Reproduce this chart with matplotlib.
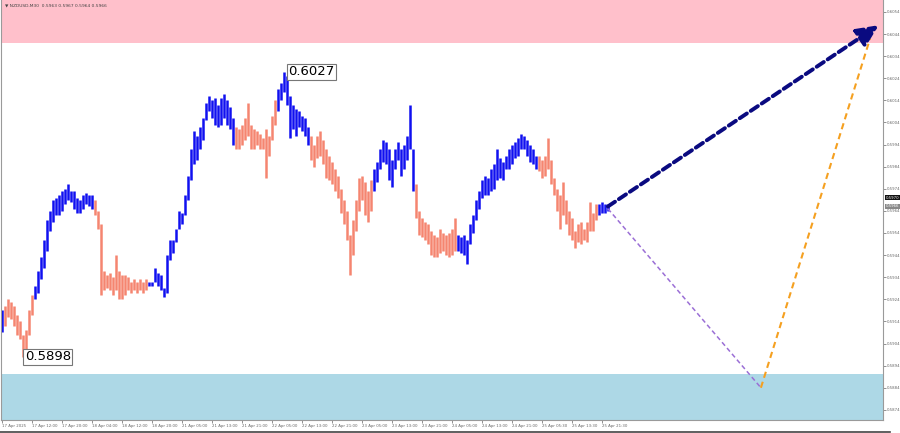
import matplotlib
matplotlib.use('Agg')
import matplotlib.pyplot as plt
from matplotlib.transforms import blended_transform_factory

# bar highs / lows (price), one entry per bar
highs = [
	0.5919, 0.5921, 0.5924, 0.5923, 0.5921, 0.5917, 0.5914, 0.5908, 0.5910, 0.5919,
	0.5926, 0.5930, 0.5937, 0.5943, 0.5951, 0.5960, 0.5964, 0.5969, 0.5970, 0.5971,
	0.5973, 0.5974, 0.5976, 0.5973, 0.5973, 0.5970, 0.5969, 0.5971, 0.5972, 0.5971,
	0.5971, 0.5969, 0.5964, 0.5958, 0.5937, 0.5935, 0.5936, 0.5934, 0.5944, 0.5937,
	0.5935, 0.5935, 0.5934, 0.5932, 0.5933, 0.5932, 0.5933, 0.5932, 0.5933, 0.5932,
	0.5932, 0.5938, 0.5936, 0.5935, 0.5929, 0.5944, 0.5951, 0.5951, 0.5956, 0.5964,
	0.5963, 0.5971, 0.5980, 0.5992, 0.6000, 0.5998, 0.6002, 0.6006, 0.6013, 0.6016,
	0.6014, 0.6015, 0.6012, 0.6015, 0.6017, 0.6014, 0.6011, 0.6006, 0.6002, 0.6001,
	0.6003, 0.6006, 0.6013, 0.6003, 0.6001, 0.6000, 0.5999, 0.5997, 0.6001, 0.5998,
	0.6007, 0.6014, 0.6019, 0.6022, 0.6027, 0.6025, 0.6016, 0.6012, 0.6010, 0.6009,
	0.6007, 0.6006, 0.6002, 0.5998, 0.5994, 0.5998, 0.6000, 0.5996, 0.5992, 0.5989,
	0.5986, 0.5983, 0.5980, 0.5974, 0.5969, 0.5964, 0.5953, 0.5960, 0.5969, 0.5979,
	0.5980, 0.5977, 0.5973, 0.5978, 0.5983, 0.5986, 0.5992, 0.5996, 0.5995, 0.5992,
	0.5987, 0.5992, 0.5995, 0.5992, 0.5994, 0.5998, 0.6012, 0.5992, 0.5976, 0.5964,
	0.5961, 0.5959, 0.5958, 0.5955, 0.5953, 0.5952, 0.5956, 0.5954, 0.5953, 0.5954,
	0.5956, 0.5961, 0.5953, 0.5952, 0.5953, 0.5951, 0.5958, 0.5962, 0.5969, 0.5973,
	0.5978, 0.5980, 0.5979, 0.5983, 0.5985, 0.5992, 0.5988, 0.5986, 0.5989, 0.5992,
	0.5994, 0.5995, 0.5997, 0.5999, 0.5998, 0.5996, 0.5994, 0.5992, 0.5989, 0.5989,
	0.5987, 0.5989, 0.5997, 0.5987, 0.5979, 0.5974, 0.5971, 0.5977, 0.5969, 0.5964,
	0.5961, 0.5955, 0.5958, 0.5959, 0.5956, 0.5959, 0.5968, 0.5963, 0.5967, 0.5967,
	0.5968, 0.5967, 0.5967,
]
lows = [
	0.5909, 0.5912, 0.5916, 0.5915, 0.5912, 0.5908, 0.5906, 0.5898, 0.5899, 0.5908,
	0.5917, 0.5924, 0.5927, 0.5933, 0.5938, 0.5946, 0.5955, 0.5959, 0.5962, 0.5962,
	0.5964, 0.5967, 0.5969, 0.5968, 0.5965, 0.5963, 0.5963, 0.5965, 0.5967, 0.5966,
	0.5965, 0.5962, 0.5956, 0.5926, 0.5928, 0.5929, 0.5928, 0.5926, 0.5928, 0.5924,
	0.5924, 0.5926, 0.5928, 0.5927, 0.5928, 0.5927, 0.5928, 0.5927, 0.5928, 0.5930,
	0.5930, 0.5932, 0.5930, 0.5928, 0.5925, 0.5927, 0.5942, 0.5945, 0.5950, 0.5956,
	0.5958, 0.5962, 0.5969, 0.5978, 0.5985, 0.5987, 0.5992, 0.5996, 0.6005, 0.6009,
	0.6006, 0.6003, 0.6002, 0.6003, 0.6006, 0.6003, 0.6001, 0.5994, 0.5992, 0.5992,
	0.5994, 0.5996, 0.5998, 0.5992, 0.5992, 0.5994, 0.5992, 0.5992, 0.5979, 0.5989,
	0.5996, 0.6003, 0.6009, 0.6014, 0.6018, 0.6012, 0.5997, 0.6001, 0.5998, 0.6002,
	0.6000, 0.5998, 0.5994, 0.5987, 0.5984, 0.5988, 0.5989, 0.5985, 0.5979, 0.5978,
	0.5976, 0.5973, 0.5970, 0.5963, 0.5958, 0.5951, 0.5935, 0.5944, 0.5955, 0.5964,
	0.5969, 0.5962, 0.5959, 0.5964, 0.5973, 0.5977, 0.5983, 0.5986, 0.5985, 0.5978,
	0.5975, 0.5983, 0.5987, 0.5980, 0.5983, 0.5987, 0.5992, 0.5973, 0.5961, 0.5953,
	0.5952, 0.5951, 0.5949, 0.5944, 0.5943, 0.5943, 0.5945, 0.5946, 0.5944, 0.5943,
	0.5944, 0.5946, 0.5946, 0.5945, 0.5944, 0.5940, 0.5949, 0.5954, 0.5960, 0.5965,
	0.5970, 0.5971, 0.5971, 0.5973, 0.5974, 0.5978, 0.5979, 0.5978, 0.5983, 0.5983,
	0.5985, 0.5988, 0.5989, 0.5992, 0.5992, 0.5989, 0.5986, 0.5985, 0.5983, 0.5982,
	0.5979, 0.5980, 0.5983, 0.5976, 0.5971, 0.5964, 0.5956, 0.5962, 0.5958, 0.5953,
	0.5951, 0.5947, 0.5950, 0.5949, 0.5951, 0.5950, 0.5955, 0.5955, 0.5960, 0.5962,
	0.5963, 0.5963, 0.5964,
]

# wave segments: number of bars and direction
seg_len = [1, 10, 20, 18, 29, 14, 11, 21, 14, 14, 27, 20, 4]
seg_dir = ['up', 'down', 'up', 'down', 'up', 'down', 'up', 'down', 'up', 'down', 'up', 'down', 'up']

# zones
resist_zone = (0.6040, 0.6070)
support_zone = (0.5850, 0.5890)

# forecast paths (bar index, price)
main_x = [202, 292.3]
main_y = [0.5966, 0.6048]
alt_x = [202, 253, 289.4]
alt_y = [0.5965, 0.5884, 0.6042]

# extremes labelled on chart
hi_idx, hi_val = 94, 0.6027
lo_idx, lo_val = 7, 0.5898

header = 'NZDUSD,M30  0.5963 0.5967 0.5964 0.5966'
last_price = 0.5966
ask_price = 0.5970

yticks = [0.5874, 0.5884, 0.5894, 0.5904, 0.5914, 0.5924, 0.5934, 0.5944, 0.5954, 0.5964,
	0.5974, 0.5984, 0.5994, 0.6004, 0.6014, 0.6024, 0.6034, 0.6044, 0.6054]
xtick_labels = ['17 Apr 2025', '17 Apr 12:00', '17 Apr 20:00', '18 Apr 04:00', '18 Apr 12:00',
	'18 Apr 20:00', '21 Apr 05:00', '21 Apr 13:00', '21 Apr 21:00', '22 Apr 05:00',
	'22 Apr 13:00', '22 Apr 21:00', '23 Apr 05:00', '23 Apr 13:00', '23 Apr 21:00',
	'24 Apr 05:00', '24 Apr 13:00', '24 Apr 21:00', '25 Apr 05:30', '25 Apr 13:30',
	'25 Apr 21:30']

up_col = '#1010f0'
down_col = '#f58570'


def main():
	fig = plt.figure(figsize=(9, 4.33), dpi=100)
	ax = fig.add_axes([1 / 900, 13 / 433, 882 / 900, 420 / 433])

	# zones
	ax.axhspan(resist_zone[0], resist_zone[1], color='#ffc0cb', lw=0, zorder=0)
	ax.axhspan(support_zone[0], support_zone[1], color='#add8e6', lw=0, zorder=0)

	# bars coloured by wave
	cols = []
	for n, d in zip(seg_len, seg_dir):
		cols += [up_col if d == 'up' else down_col] * n
	xs = list(range(len(highs)))
	ax.vlines(xs, lows, highs, colors=cols, lw=1.8, zorder=2)

	# forecast lines
	ax.plot(alt_x[:2], alt_y[:2], ls=(0, (3, 2)), color='#9b6fd6', lw=1.1, zorder=3)
	ax.plot(alt_x[1:], alt_y[1:], ls=(0, (3, 2)), color='#f5a020', lw=1.5, zorder=3)
	ax.annotate('', xy=(main_x[1], main_y[1]), xytext=(main_x[0], main_y[0]),
		arrowprops=dict(arrowstyle='-|>,head_length=1.3,head_width=0.6', color='#0a0a80',
			lw=2.8, ls=(0, (2.2, 1.2)), shrinkA=0, shrinkB=0), zorder=4)

	# extreme labels
	box = dict(boxstyle='square,pad=0.12', fc='white', ec='#777777', lw=0.8)
	ax.text(hi_idx + 1.5, hi_val, f'{hi_val:.4f}', fontsize=9.5, ha='left', va='center', bbox=box, zorder=5)
	ax.text(lo_idx + 0.6, lo_val, f'{lo_val:.4f}', fontsize=9.5, ha='left', va='center', bbox=box, zorder=5)

	ax.set_xlim(-0.3, 293.7)
	ax.set_ylim(0.58694, 0.60594)

	# axes styling
	for s in ['left', 'right', 'bottom']:
		ax.spines[s].set_color('#9a9a9a')
		ax.spines[s].set_linewidth(0.8)
	ax.spines['top'].set_visible(False)

	ax.yaxis.tick_right()
	ax.set_yticks(yticks)
	ax.set_yticklabels([f'{v:.4f}' for v in yticks])
	ax.tick_params(axis='y', labelsize=2.8, colors='#666666', length=2, width=0.5, pad=1)
	ax.set_xticks([10 * k for k in range(len(xtick_labels))])
	ax.set_xticklabels(xtick_labels, ha='left')
	ax.tick_params(axis='x', labelsize=2.8, colors='#666666', length=2, width=0.5, pad=1)

	# price boxes on the right axis
	trans = blended_transform_factory(ax.transAxes, ax.transData)
	ax.text(1.003, ask_price, f'{ask_price:.4f}', transform=trans, fontsize=2.8, color='white',
		va='center', ha='left', bbox=dict(boxstyle='square,pad=0.15', fc='#111111', ec='none'))
	ax.text(1.003, last_price, f'{last_price:.4f}', transform=trans, fontsize=2.8, color='white',
		va='center', ha='left', bbox=dict(boxstyle='square,pad=0.15', fc='#888888', ec='none'))

	# header text
	ax.text(0.004, 0.988, '\u25bc ' + header, transform=ax.transAxes, fontsize=3.2,
		color='#444444', va='center', ha='left')

	# dark strip at bottom edge
	fig.add_artist(plt.Line2D([0, 890 / 900], [1.5 / 433, 1.5 / 433], color='#444444', lw=1.2))

	fig.savefig('out.png', dpi=100)


if __name__ == '__main__':
	main()
